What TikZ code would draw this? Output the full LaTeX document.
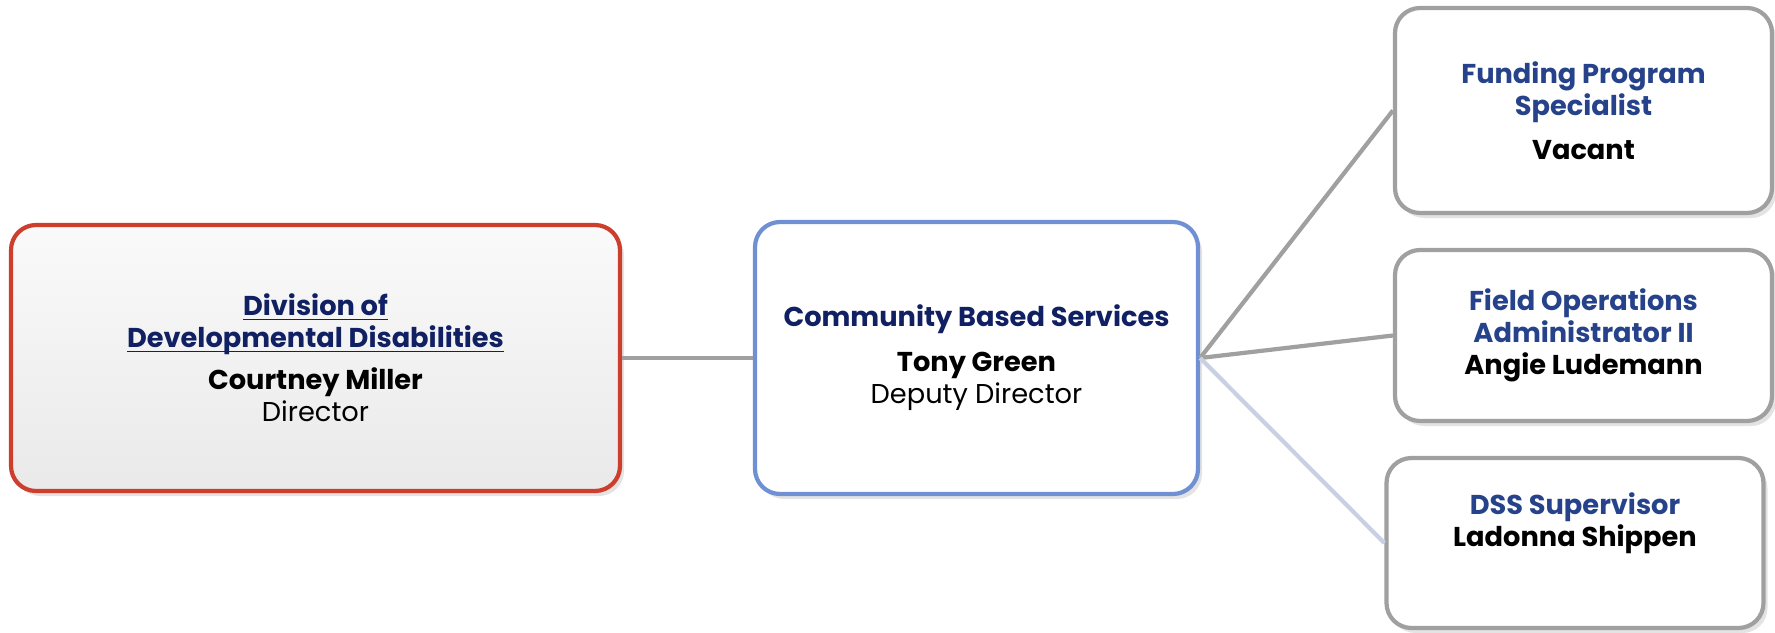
\documentclass[tikz,border=0pt]{standalone}
\usepackage{fontspec}
\setmainfont{Poppins}
\usetikzlibrary{shadows}

\definecolor{navydark}{RGB}{16,32,98}
\definecolor{navymid}{RGB}{38,66,138}
\definecolor{redline}{RGB}{206,62,44}
\definecolor{blueline}{RGB}{112,144,212}
\definecolor{greyline}{RGB}{160,160,160}
\definecolor{paleline}{RGB}{200,208,228}

% underline at a fixed depth below the baseline
\newcommand{\baseul}[1]{\setbox0\hbox{#1}\rlap{\rule[-1.3pt]{\wd0}{0.5pt}}\box0}

\begin{document}
\begin{tikzpicture}[
    every node/.style={font=\fontsize{7.75}{9.1}\selectfont, align=center},
    box/.style={rectangle, rounded corners=0.25cm, line width=1.2pt,
        drop shadow={opacity=0.22, shadow xshift=0.04cm, shadow yshift=-0.05cm}},
    headbox/.style={box, draw=redline, top color=gray!4, bottom color=gray!17,
        minimum width=6.09cm, minimum height=2.66cm},
    deputybox/.style={box, draw=blueline, fill=white,
        minimum width=4.43cm, minimum height=2.72cm},
    staffbox/.style={box, draw=greyline, fill=white,
        minimum width=3.77cm, minimum height=1.71cm},
    link/.style={draw=greyline, line width=1.2pt}
]
\useasboundingbox (0,0) rectangle (17.75,-6.32);

% boxes
\node[headbox] (dd) at (3.155,-3.58)
    {\color{navydark}\textbf{\baseul{Division of}}\\
     \color{navydark}\textbf{\baseul{Developmental Disabilities}}\\[0.1cm]
     \textbf{Courtney Miller}\\ Director};
\node[deputybox] (cbs) at (9.765,-3.58)
    {\color{navydark}\textbf{Community Based Services}\\[0.13cm]
     \textbf{Tony Green}\\ Deputy Director};
\node[staffbox, minimum height=2.05cm] (fps) at (15.835,-1.105)
    {\color{navymid}\textbf{Funding Program}\\
     \color{navymid}\textbf{Specialist}\\[0.12cm]
     \textbf{Vacant}};
\node[staffbox] (foa) at (15.835,-3.355)
    {\color{navymid}\textbf{Field Operations}\\
     \color{navymid}\textbf{Administrator II}\\
     \textbf{Angie Ludemann}};
\node[staffbox, minimum height=1.70cm] (dss) at (15.75,-5.43) {};
\node (dsstxt) at ([yshift=0.2cm]dss.center)
    {\color{navymid}\textbf{DSS Supervisor}\\
     \textbf{Ladonna Shippen}};

% connectors
\draw[link] (dd.east) -- (cbs.west);
\draw[link] (cbs.east) -- (fps.west);
\draw[link] (cbs.east) -- (foa.west);
\draw[link, draw=paleline] (cbs.east) -- (dss.west);
\end{tikzpicture}
\end{document}
